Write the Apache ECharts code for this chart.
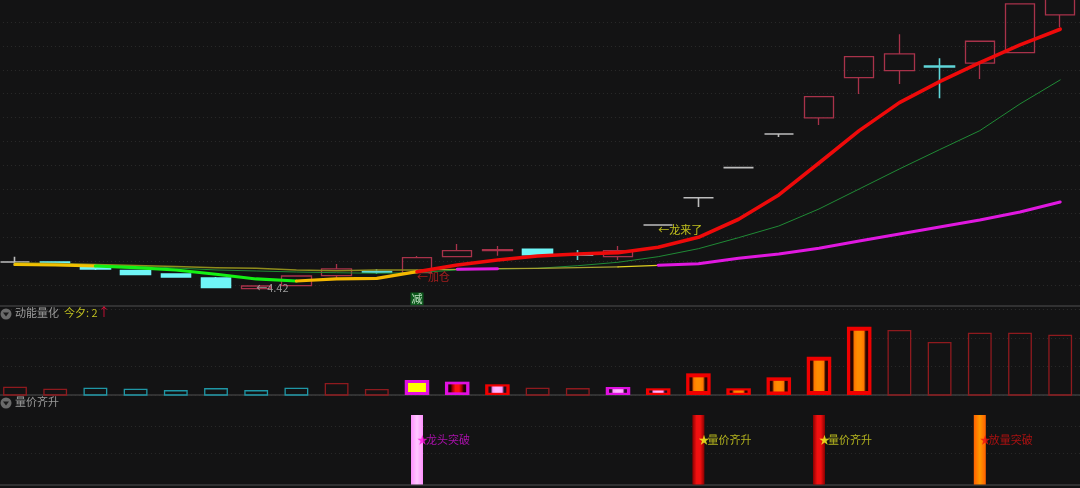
<!DOCTYPE html>
<html>
<head>
    <meta charset="utf-8">
    <title>量价齐升</title>
    <script src="https://cdn.jsdelivr.net/npm/echarts@6/dist/echarts.min.js"></script>
    <style>
        html, body { margin: 0; padding: 0; background: #131314; }
        #main { width: 1080px; height: 488px; }
    </style>
</head>
<body>
    <div id="main"></div>
    <script type="text/javascript">
var days = [];
for (var d = 1; d <= 27; d++) days.push('D' + d);

// open, close, low, high
var candles = [
    [4.98, 4.98, 4.90, 5.09], [4.98, 4.94, 4.94, 4.98], [4.897, 4.835, 4.814, 4.897],
    [4.803, 4.72, 4.709, 4.803], [4.73, 4.667, 4.657, 4.73], [4.646, 4.448, 4.437, 4.667],
    [4.423, 4.479, 4.42, 4.479], [4.485, 4.688, 4.485, 4.688], [4.695, 4.835, 4.646, 4.939],
    [4.78, 4.77, 4.73, 4.835], [4.757, 5.071, 4.757, 5.107], [5.092, 5.218, 5.086, 5.358],
    [5.22, 5.24, 5.113, 5.316], [5.247, 5.134, 5.107, 5.247], [5.13, 5.125, 5.023, 5.232],
    [5.092, 5.218, 5.023, 5.316], [5.755, 5.755, 5.755, 5.755], [6.326, 6.326, 6.132, 6.326],
    [6.954, 6.954, 6.954, 6.954], [7.659, 7.659, 7.596, 7.659], [7.994, 8.439, 7.847, 8.439],
    [8.837, 9.276, 8.496, 9.276], [8.983, 9.333, 8.705, 9.745], [9.08, 9.06, 8.406, 9.243],
    [9.138, 9.598, 8.81, 9.598], [9.36, 10.379, 9.36, 10.379], [10.149, 10.9, 9.891, 10.9]
];
var candleKinds = ['flat', 'down', 'down', 'down', 'down', 'down', 'up', 'up', 'up', 'cross', 'up', 'up', 'up', 'down',
    'cross', 'up', 'flat', 'flat', 'flat', 'flat', 'up', 'up', 'up', 'cross', 'up', 'up', 'up'];

var fastLine = [4.929, 4.918, 4.897, 4.862, 4.814, 4.724, 4.626, 4.584, 4.626, 4.64, 4.778, 4.918, 5.023, 5.107,
    5.149, 5.176, 5.289, 5.498, 5.875, 6.383, 7.052, 7.728, 8.314, 8.753, 9.151, 9.521, 9.849];
var midLine = [4.939, 4.939, 4.918, 4.897, 4.856, 4.814, 4.793, 4.772, 4.757, 4.745, 4.757, 4.814, 4.835, 4.849,
    4.904, 4.975, 5.092, 5.259, 5.49, 5.734, 6.09, 6.508, 6.927, 7.331, 7.728, 8.287, 8.789];
var slowLine = [4.96, 4.95, 4.929, 4.908, 4.887, 4.862, 4.849, 4.814, 4.799, 4.814, 4.814, 4.828, 4.841, 4.849,
    4.862, 4.877, 4.912, 4.946, 5.059, 5.149, 5.268, 5.421, 5.567, 5.713, 5.86, 6.027, 6.236];

var noteDays = [6, 10, 10, 16];
var notePrices = [4.437, 4.667, 4.207, 5.651];
var noteTexts = ['←4.42', '←加仓', '减', '←龙来了'];

var volumes = [0.27, 0.2, 0.235, 0.2, 0.15, 0.22, 0.15, 0.235, 0.4, 0.186, 0.526, 0.467, 0.375, 0.235, 0.22, 0.28,
    0.235, 0.76, 0.235, 0.62, 1.345, 2.396, 2.256, 1.835, 2.165, 2.165, 2.095];
var volumeKinds = ['red', 'red', 'teal', 'teal', 'teal', 'teal', 'teal', 'teal', 'red', 'red', 'magentaYellow', 'magentaRed',
    'redPink', 'red', 'red', 'magentaPink', 'redPink', 'redOrange', 'redOrange', 'redOrange', 'redOrange', 'redOrange',
    'red', 'red', 'red', 'red', 'red'];

var signalDays = [10, 17, 20, 24];
var signalTexts = ['龙头突破', '量价齐升', '量价齐升', '放量突破'];
var signalKinds = ['pink', 'red', 'red', 'orange'];
var signalLevel = 1;
var signalLabelLevel = 0.65;
var signalDots = [0.45, 0.84];

function darkEnds(edge, mid, centre) {
    return new echarts.graphic.LinearGradient(0, 0, 1, 0, [
        { offset: 0, color: edge }, { offset: 0.13, color: edge }, { offset: 0.24, color: mid },
        { offset: 0.4, color: centre }, { offset: 0.6, color: centre }, { offset: 0.76, color: mid },
        { offset: 0.87, color: edge }, { offset: 1, color: edge }
    ]);
}

var volumeStyles = {
    red: { line: '#8f1a1e' },
    teal: { line: '#1f97a6' },
    magentaYellow: { frame: '#e010e0', fill: '#ffff00' },
    magentaRed: { frame: '#e010e0', fill: darkEnds('#200000', '#a00000', '#ff1010') },
    magentaPink: { frame: '#e010e0', fill: darkEnds('#200c20', '#ff99ff', '#ffb8ff') },
    redPink: { frame: '#f00000', fill: darkEnds('#200c20', '#ff99ff', '#ffb8ff') },
    redOrange: { frame: '#f00000', fill: darkEnds('#2a0500', '#ff7800', '#ff8c00') }
};

var signalStyles = {
    pink: { bar: new echarts.graphic.LinearGradient(0, 0, 1, 0, [
        { offset: 0, color: '#ff90ff' }, { offset: 0.5, color: '#ffc8ff' }, { offset: 1, color: '#ff90ff' }
    ]), text: '#d010d0', star: '#ff10e0' },
    red: { bar: new echarts.graphic.LinearGradient(0, 0, 1, 0, [
        { offset: 0, color: '#8a0000' }, { offset: 0.35, color: '#f01010' }, { offset: 0.65, color: '#f01010' }, { offset: 1, color: '#8a0000' }
    ]), text: '#d8d820', star: '#ffff20' },
    orange: { bar: new echarts.graphic.LinearGradient(0, 0, 1, 0, [
        { offset: 0, color: '#ff6000' }, { offset: 0.5, color: '#ff9800' }, { offset: 1, color: '#ff6000' }
    ]), text: '#d01010', star: '#f01010' }
};

var candleStyles = {
    up: '#a8324a', down: '#6ff5f7', cross: '#5fd5d8', flat: '#bdbdbd'
};

// keep only the stretch of a line between two day numbers
function part(values, from, to) {
    return values.map(function (v, i) { return i >= from && i <= to ? v : null; });
}

function lineSeries(values, color, width, z) {
    return {
        type: 'line', data: values, symbol: 'none', silent: true, z: z,
        xAxisIndex: 0, yAxisIndex: 0, connectNulls: false,
        lineStyle: { color: color, width: width, cap: 'round', join: 'round' }
    };
}

function flatAxis(index, show) {
    return {
        type: 'category', data: days, gridIndex: index, boundaryGap: true,
        axisTick: { show: false }, axisLabel: { show: false },
        axisLine: { show: show, lineStyle: { color: '#3c3c3c', width: 1.5 } }
    };
}

function flatValueAxis(index, min, max, interval, showSplit) {
    return {
        type: 'value', gridIndex: index, min: min, max: max, interval: interval,
        axisLine: { show: false }, axisTick: { show: false }, axisLabel: { show: false },
        splitLine: { show: showSplit, lineStyle: { color: '#2b2b2b', width: 1, type: [1, 3] } }
    };
}

// volume bars: plain outline, or a thick frame with a filled inside
function renderVolume(params, api) {
    var i = api.value(0);
    var top = api.coord([i, api.value(1)]);
    var base = api.coord([i, 0]);
    var st = volumeStyles[volumeKinds[i]];
    var h = base[1] - top[1];
    if (st.line) {
        return {
            type: 'rect', shape: { x: top[0] - 11.25, y: top[1], width: 22.5, height: h },
            style: { fill: 'none', stroke: st.line, lineWidth: 1.3 }
        };
    }
    var w = 24.5;
    var side = 3.3;
    var cap = Math.max(2.2, Math.min(4, h * 0.2));
    return {
        type: 'group',
        children: [
            { type: 'rect', shape: { x: top[0] - w / 2, y: top[1], width: w, height: h }, style: { fill: st.frame } },
            {
                type: 'rect',
                shape: { x: top[0] - w / 2 + side, y: top[1] + cap, width: w - 2 * side, height: h - 2 * cap },
                style: { fill: st.fill }
            }
        ]
    };
}

var myChart = echarts.init(document.getElementById('main'), null, { renderer: 'canvas' });

var candleData = candles.map(function (c, i) {
    var col = candleStyles[candleKinds[i]];
    var body = candleKinds[i] === 'up' ? 'transparent' : col;
    return {
        value: c,
        itemStyle: { color: body, color0: body, borderColor: col, borderColor0: col, borderWidth: candleKinds[i] === 'up' ? 1.3 : 1.6 }
    };
});

var noteColors = ['#b8b8b8', '#c82020', '#e8ffe8', '#e8e820'];
var noteData = noteDays.map(function (d, i) {
    var isTag = noteTexts[i] === '减';
    return {
        value: [d, notePrices[i]],
        label: {
            show: true, formatter: noteTexts[i], color: noteColors[i], distance: 0,
            position: isTag ? 'inside' : 'right', fontSize: 11,
            backgroundColor: isTag ? '#0b6a1e' : 'transparent', padding: isTag ? [1, 1] : 0
        }
    };
});

var signalBars = days.map(function (name, i) {
    var at = signalDays.indexOf(i);
    if (at < 0) return null;
    return { value: signalLevel, itemStyle: { color: signalStyles[signalKinds[at]].bar } };
});

var signalNotes = signalDays.map(function (d, i) {
    var st = signalStyles[signalKinds[i]];
    return {
        value: [d, signalLabelLevel],
        label: {
            show: true, position: 'right', distance: 0,
            formatter: '{s|★}{t|' + signalTexts[i] + '}',
            rich: {
                s: { color: st.star, fontSize: 11, width: 9 },
                t: { color: st.text, fontSize: 11 }
            }
        }
    };
});

myChart.setOption({
    animation: false,
    backgroundColor: '#131314',
    textStyle: { fontFamily: '"Noto Sans CJK SC", "Noto Sans", sans-serif' },
    grid: [
        { left: -5.1, width: 1085.4, top: -1.9, height: 310.8, outerBoundsMode: 'none' },
        { left: -5.1, width: 1085.4, top: 309.5, height: 85.5, outerBoundsMode: 'none' },
        { left: -5.1, width: 1085.4, top: 415, height: 69.5, outerBoundsMode: 'none' }
    ],
    xAxis: [flatAxis(0, false), flatAxis(1, true), flatAxis(2, true)],
    yAxis: [
        flatValueAxis(0, 4, 10.5, 0.5, true),
        flatValueAxis(1, 0, 3, 1, true),
        flatValueAxis(2, 0, 1, 1, false)
    ],
    graphic: [
        { type: 'line', shape: { x1: 0, y1: 306, x2: 1080, y2: 306 }, style: { stroke: '#3c3c3c', lineWidth: 1.5 }, z: 50 },
        { type: 'circle', shape: { cx: 6, cy: 314, r: 5.5 }, style: { fill: '#6a6a6a' }, z: 50 },
        { type: 'polygon', shape: { points: [[3, 312.5], [9, 312.5], [6, 316.5]] }, style: { fill: '#1a1a1a' }, z: 51 },
        { type: 'text', x: 15, y: 307, style: { text: '动能量化', fill: '#9a9a9a', font: '11px "Noto Sans CJK SC"' }, z: 50 },
        { type: 'text', x: 64, y: 307, style: { text: '今夕: 2', fill: '#c0c020', font: '11px "Noto Sans CJK SC"' }, z: 50 },
        { type: 'text', x: 98, y: 306, style: { text: '↑', fill: '#e0103a', font: '12px "Noto Sans CJK SC"' }, z: 50 },
        { type: 'circle', shape: { cx: 6, cy: 403, r: 5.5 }, style: { fill: '#6a6a6a' }, z: 50 },
        { type: 'polygon', shape: { points: [[3, 401.5], [9, 401.5], [6, 405.5]] }, style: { fill: '#1a1a1a' }, z: 51 },
        { type: 'text', x: 15, y: 396, style: { text: '量价齐升', fill: '#9a9a9a', font: '11px "Noto Sans CJK SC"' }, z: 50 }
    ],
    series: [
        {
            type: 'candlestick', data: candleData, xAxisIndex: 0, yAxisIndex: 0,
            barWidth: 30, silent: true, z: 2
        },
        lineSeries(part(midLine, 0, 26), '#1f8a35', 1, 3),
        lineSeries(part(slowLine, 0, 10), '#8f8c1c', 1.6, 3),
        lineSeries(part(slowLine, 10, 15), '#a5a030', 1.2, 3),
        lineSeries(part(slowLine, 15, 16), '#e0d020', 1.3, 3),
        lineSeries(part(slowLine, 11, 12), '#e018e0', 3, 4),
        lineSeries(part(slowLine, 16, 26), '#e018e0', 3, 4),
        lineSeries(part(fastLine, 0, 2), '#f0c000', 3.2, 5),
        lineSeries(part(fastLine, 2, 7), '#14f014', 3.2, 5),
        lineSeries(part(fastLine, 7, 10), '#f5b800', 3.2, 5),
        lineSeries(part(fastLine, 10, 26), '#ee0a0a', 3.6, 5),
        { type: 'scatter', data: noteData, xAxisIndex: 0, yAxisIndex: 0, symbolSize: 0, silent: true, z: 6 },
        {
            type: 'custom', xAxisIndex: 1, yAxisIndex: 1, silent: true, renderItem: renderVolume,
            encode: { x: 0, y: 1 },
            data: volumes.map(function (v, i) { return [i, v]; })
        },
        {
            type: 'bar', xAxisIndex: 2, yAxisIndex: 2, barWidth: 12, silent: true, data: signalBars, z: 3,
            markLine: {
                silent: true, symbol: 'none', label: { show: false }, z: 1,
                lineStyle: { color: '#2b2b2b', width: 1, type: [1, 3] },
                data: signalDots.map(function (v) { return { yAxis: v }; })
            }
        },
        { type: 'scatter', data: signalNotes, xAxisIndex: 2, yAxisIndex: 2, symbolSize: 0, silent: true, z: 6 }
    ]
});
    </script>
</body>
</html>
